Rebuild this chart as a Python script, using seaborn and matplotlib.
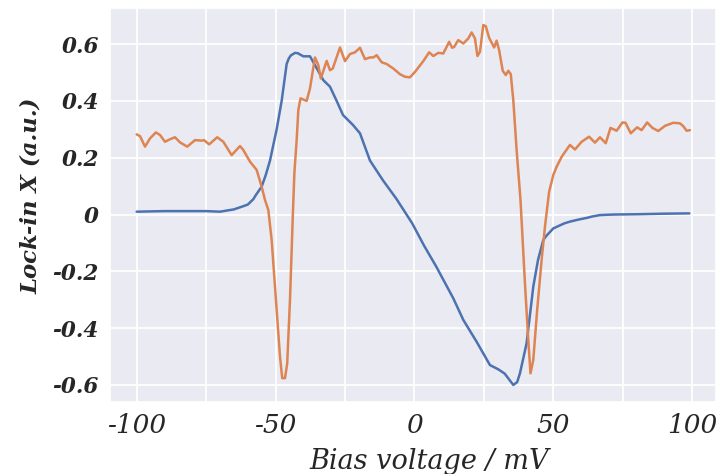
import matplotlib
matplotlib.use("Agg")
import matplotlib.pyplot as plt
import matplotlib.ticker as mticker
import seaborn as sns
import pandas as pd

# Bias sweep, in-phase lock-in signal (blue trace)
bias_blue = [-100, -95, -90, -85, -80, -75, -70, -65, -62, -60, -58, -57, -55,
             -53.5, -52, -50.8, -49.6, -48.7, -47.8, -46, -45.2, -44.5, -43,
             -42, -41.5, -40, -37.6, -35.8, -32.8, -30.4, -28, -25.7, -22.1,
             -19.6, -16, -11.3, -6.4, -0.8, 3.5, 7.9, 14, 17.6, 22.4, 27.2,
             30.2, 32.5, 35.6, 37, 38, 40.4, 42.8, 44.5, 46.4, 47.5, 50, 52,
             54, 56, 59, 62, 64, 66.8, 69, 72, 80, 90, 99]
signal_blue = [0.010, 0.011, 0.012, 0.012, 0.012, 0.012, 0.010, 0.018, 0.028,
               0.035, 0.054, 0.07, 0.098, 0.14, 0.19, 0.245, 0.30, 0.35, 0.40,
               0.53, 0.55, 0.56, 0.569, 0.568, 0.565, 0.557, 0.557, 0.526,
               0.473, 0.45, 0.40, 0.35, 0.315, 0.286, 0.19, 0.12, 0.054,
               -0.031, -0.11, -0.184, -0.295, -0.371, -0.448, -0.53, -0.545,
               -0.56, -0.60, -0.59, -0.559, -0.453, -0.254, -0.16, -0.09,
               -0.075, -0.049, -0.04, -0.031, -0.025, -0.018, -0.012, -0.007,
               -0.002, -0.001, 0.0, 0.001, 0.003, 0.004]

# Second trace (orange)
bias_orange = [-100, -98.8, -97, -95.2, -93.1, -91.6, -89.8, -88, -86.2, -84.4,
               -81.8, -79, -76.6, -75.8, -73.9, -71, -68.8, -65.8, -62.8,
               -61.6, -59.2, -56.8, -55, -53.8, -52.6, -51.4, -49.6, -48.4,
               -47.6, -46.6, -45.8, -44.8, -43.8, -43.2, -42.4, -41.8, -41,
               -38.8, -37.6, -35.8, -34.6, -33.7, -31.6, -30.4, -29.4, -26.8,
               -25, -23.2, -21.4, -19.6, -17.8, -16, -14.8, -13.6, -11.8, -10,
               -7.6, -5.2, -3.4, -1.6, 0.2, 3.2, 5.3, 6.8, 8.6, 10.4, 12.5,
               13.6, 14.3, 15.8, 17.6, 19.4, 20.6, 21.8, 22.7, 23.6, 24.8,
               25.7, 26.9, 28.7, 29.6, 30.5, 31.8, 32.9, 33.8, 34.7, 35.6,
               36.8, 38.2, 39.8, 41, 41.8, 42.8, 44.2, 45.8, 47, 48.5, 50,
               51.2, 53, 56, 57.8, 60.2, 62.9, 65, 66.8, 68.9, 70.6, 72.8,
               74.9, 76, 77.9, 80.2, 81.8, 83.8, 85.7, 87.8, 90.2, 93.2, 95.6,
               96.8, 98, 99.2]
signal_orange = [0.282, 0.276, 0.239, 0.268, 0.289, 0.28, 0.256, 0.265, 0.272,
                 0.254, 0.239, 0.262, 0.26, 0.262, 0.247, 0.272, 0.256, 0.209,
                 0.241, 0.227, 0.186, 0.157, 0.098, 0.051, 0.016, -0.09,
                 -0.336, -0.50, -0.576, -0.576, -0.524, -0.30, -0.008, 0.15,
                 0.262, 0.368, 0.409, 0.40, 0.444, 0.553, 0.526, 0.479, 0.541,
                 0.508, 0.514, 0.588, 0.54, 0.565, 0.571, 0.587, 0.547, 0.553,
                 0.553, 0.561, 0.536, 0.53, 0.514, 0.494, 0.485, 0.483, 0.502,
                 0.54, 0.571, 0.558, 0.569, 0.567, 0.608, 0.587, 0.59, 0.614,
                 0.602, 0.62, 0.641, 0.62, 0.558, 0.573, 0.667, 0.663, 0.622,
                 0.588, 0.612, 0.579, 0.506, 0.491, 0.506, 0.494, 0.403, 0.227,
                 0.051, -0.242, -0.442, -0.559, -0.512, -0.336, -0.16, -0.043,
                 0.08, 0.139, 0.168, 0.203, 0.245, 0.229, 0.256, 0.274, 0.253,
                 0.272, 0.251, 0.305, 0.295, 0.324, 0.323, 0.286, 0.307, 0.297,
                 0.324, 0.305, 0.294, 0.312, 0.323, 0.321, 0.311, 0.295, 0.297]

x_ticks = [-100, -50, 0, 50, 100]
y_ticks = [-0.6, -0.4, -0.2, 0, 0.2, 0.4, 0.6]

sns.set_theme(style="darkgrid")
plt.rcParams["font.family"] = ["DejaVu Serif"]
plt.rcParams["axes.unicode_minus"] = False

palette = sns.color_palette("deep")
fig = plt.figure(figsize=(7.21, 4.74), dpi=100)
ax = fig.add_axes([0.1526, 0.1525, 0.8405, 0.8306])

blue = pd.DataFrame({"bias": bias_blue, "signal": signal_blue})
orange = pd.DataFrame({"bias": bias_orange, "signal": signal_orange})
sns.lineplot(data=blue, x="bias", y="signal", ax=ax, color=palette[0],
             linewidth=1.8, estimator=None, sort=False)
sns.lineplot(data=orange, x="bias", y="signal", ax=ax, color=palette[1],
             linewidth=1.8, estimator=None, sort=False)

ax.set_xlim(-109.6, 108.6)
ax.set_ylim(-0.659, 0.727)

ax.xaxis.set_major_locator(mticker.FixedLocator(x_ticks))
ax.xaxis.set_minor_locator(mticker.MultipleLocator(25))
ax.yaxis.set_major_locator(mticker.FixedLocator(y_ticks))
ax.xaxis.set_major_formatter(mticker.FuncFormatter(lambda v, p: f"{v:g}"))
ax.yaxis.set_major_formatter(mticker.FuncFormatter(lambda v, p: f"{v:g}"))
ax.grid(which="minor", axis="x", color="white", linewidth=1.25)
ax.grid(which="major", color="white", linewidth=1.25)
ax.tick_params(which="both", length=0)

for lbl in ax.get_xticklabels():
    lbl.set_fontsize(19)
    lbl.set_fontstyle("italic")
for lbl in ax.get_yticklabels():
    lbl.set_fontsize(15.5)
    lbl.set_fontstyle("italic")
    lbl.set_fontweight("bold")
ax.tick_params(axis="x", pad=8)
ax.tick_params(axis="y", pad=8)

ax.set_xlabel("Bias voltage / mV", fontsize=19.5, fontstyle="italic")
ax.set_ylabel("Lock-in X (a.u.)", fontsize=16.4, fontstyle="italic",
              fontweight="bold")
ax.xaxis.set_label_coords(0.526, -0.118)
ax.yaxis.set_label_coords(-0.112, 0.5235)

fig.savefig("out.png", dpi=100)
